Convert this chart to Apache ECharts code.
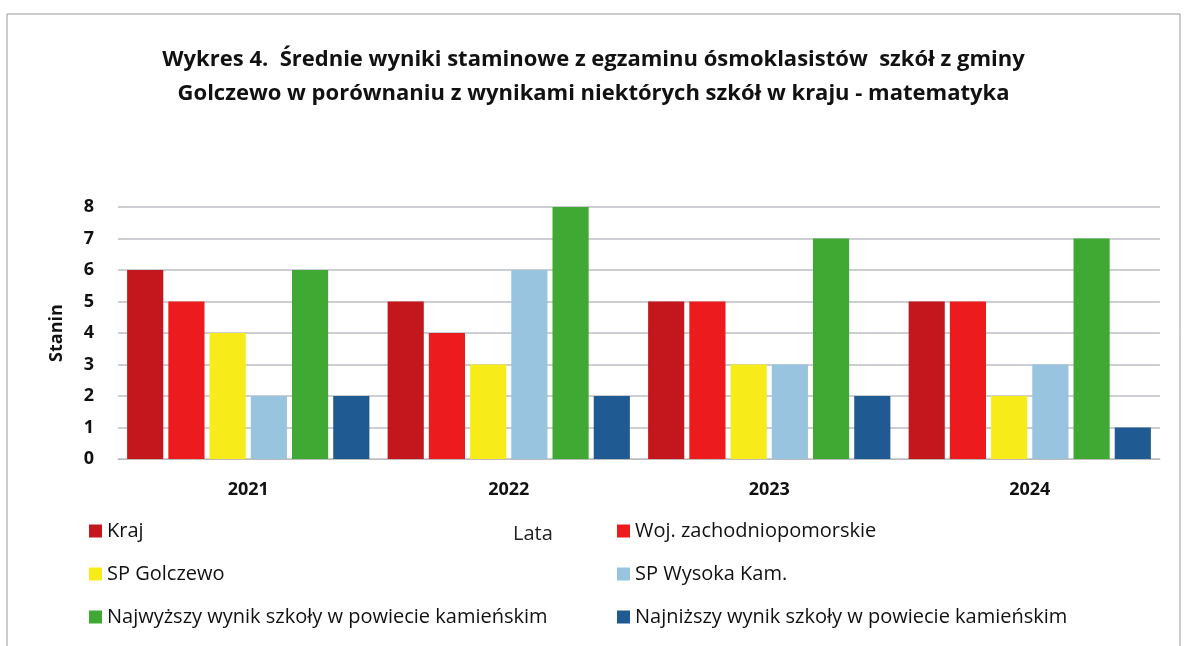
<!DOCTYPE html>
<html>
<head>
<meta charset="utf-8">
<script src="https://cdn.jsdelivr.net/npm/echarts@6/dist/echarts.min.js"></script>
<style>
  html, body { margin: 0; padding: 0; background: #fff; }
  #chart { width: 1187px; height: 646px; }
</style>
</head>
<body>
<div id="chart"></div>
<script>
// dane z wykresu
var years = ['2021', '2022', '2023', '2024'];
var kraj = [6, 5, 5, 5];
var woj = [5, 4, 5, 5];
var spGolczewo = [4, 3, 3, 2];
var spWysoka = [2, 6, 3, 3];
var najwyzszy = [6, 8, 7, 7];
var najnizszy = [2, 2, 2, 1];
var yTicks = [0, 1, 2, 3, 4, 5, 6, 7, 8];

var seriesNames = [
  'Kraj',
  'Woj. zachodniopomorskie',
  'SP Golczewo',
  'SP Wysoka Kam.',
  'Najwyższy wynik szkoły w powiecie kamieńskim',
  'Najniższy wynik szkoły w powiecie kamieńskim'
];
var seriesData = [kraj, woj, spGolczewo, spWysoka, najwyzszy, najnizszy];
var colors = ['#c3161d', '#ec1c1e', '#f7ec1a', '#98c4e0', '#3fa934', '#1f5b92'];

var font = 'Open Sans';
var legendText = { fontFamily: font, fontSize: 20, color: '#111' };

var chart = echarts.init(document.getElementById('chart'));
chart.setOption({
  animation: false,
  color: colors,
  title: {
    text: 'Wykres 4.  Średnie wyniki staminowe z egzaminu ósmoklasistów  szkół z gminy\nGolczewo w porównaniu z wynikami niektórych szkół w kraju - matematyka',
    left: 'center',
    top: 38,
    textStyle: {
      fontFamily: font,
      fontSize: 22,
      fontWeight: 'bold',
      color: '#111',
      lineHeight: 34
    }
  },
  legend: [
    {
      data: [seriesNames[0], seriesNames[2], seriesNames[4]],
      orient: 'vertical',
      left: 84,
      top: 516,
      itemWidth: 13,
      itemHeight: 13,
      itemGap: 23,
      icon: 'rect',
      textStyle: legendText
    },
    {
      data: [seriesNames[1], seriesNames[3], seriesNames[5]],
      orient: 'vertical',
      left: 612,
      top: 516,
      itemWidth: 13,
      itemHeight: 13,
      itemGap: 23,
      icon: 'rect',
      textStyle: legendText
    }
  ],
  grid: {
    left: 118,
    right: 27,
    top: 207,
    bottom: 187
  },
  xAxis: {
    type: 'category',
    data: years,
    axisLine: { lineStyle: { color: '#bbb' } },
    axisTick: { show: false },
    axisLabel: {
      fontFamily: font, fontSize: 18, fontWeight: 'bold', color: '#111', margin: 22
    }
  },
  yAxis: {
    type: 'value',
    min: yTicks[0],
    max: yTicks[yTicks.length - 1],
    interval: 1,
    name: 'Stanin',
    nameLocation: 'middle',
    nameGap: 52,
    nameTextStyle: { fontFamily: font, fontSize: 18, fontWeight: 'bold', color: '#111' },
    axisLine: { show: false },
    axisTick: { show: false },
    axisLabel: { fontFamily: font, fontSize: 18, fontWeight: 'bold', color: '#111', margin: 24 },
    splitLine: { lineStyle: { color: '#bdbdc6', width: 1.5 } }
  },
  graphic: [
    {
      type: 'rect',
      shape: { x: 7, y: 14, width: 1173, height: 640 },
      style: { fill: 'none', stroke: '#999', lineWidth: 1 },
      silent: true
    },
    {
      // nazwa osi X ("Lata") stoi w oryginale między kolumnami legendy
      type: 'text',
      left: 513,
      top: 524,
      style: { text: 'Lata', fontFamily: font, fontSize: 20, fill: '#222' },
      silent: true
    }
  ],
  series: seriesNames.map(function (name, i) {
    return {
      name: name,
      type: 'bar',
      data: seriesData[i],
      barGap: '14%',
      barCategoryGap: '7%'
    };
  })
});
</script>
</body>
</html>
